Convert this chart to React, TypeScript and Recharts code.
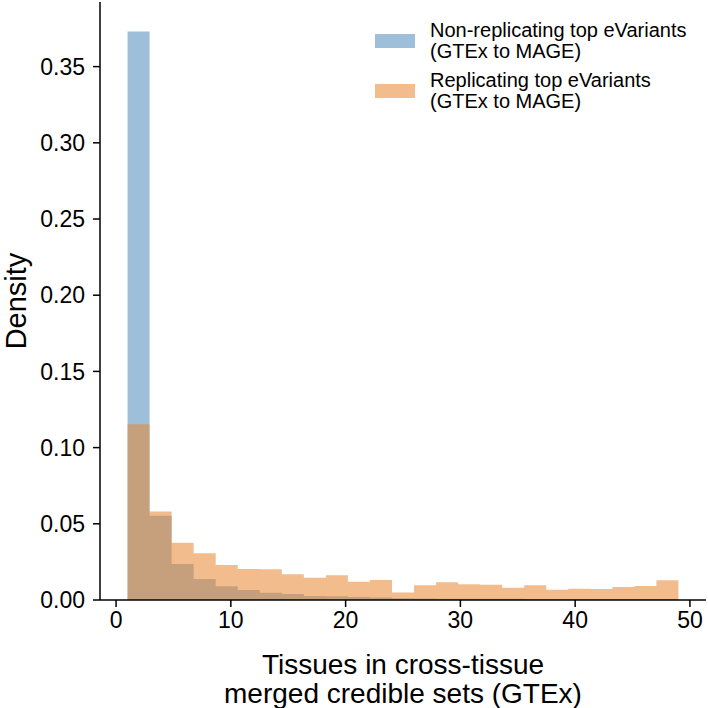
import { ComposedChart, Area, XAxis, YAxis } from "recharts";

const FONT = "'Liberation Sans', Arial, Helvetica, sans-serif";

// histogram bin edges (25 bins from 1 to 49)
const BIN_EDGES = [
  1, 2.92, 4.84, 6.76, 8.68, 10.6, 12.52, 14.44, 16.36, 18.28, 20.2, 22.12, 24.04,
  25.96, 27.88, 29.8, 31.72, 33.64, 35.56, 37.48, 39.4, 41.32, 43.24, 45.16, 47.08, 49,
];
const NON_REPLICATING = [
  0.373, 0.0553, 0.0236, 0.0138, 0.009, 0.0066, 0.0048, 0.0039, 0.0027, 0.0025, 0.002,
  0.0016, 0.0012, 0.001, 0.0009, 0.0009, 0.0008, 0.0008, 0.0007, 0.0007, 0.0006, 0.0006,
  0.0006, 0.0005, 0.0005,
];
const REPLICATING = [
  0.1153, 0.058, 0.0376, 0.0306, 0.023, 0.0203, 0.0201, 0.0169, 0.0146, 0.0162, 0.012,
  0.0131, 0.005, 0.0096, 0.0116, 0.0103, 0.01, 0.0081, 0.0096, 0.0068, 0.0074, 0.0072,
  0.0085, 0.0092, 0.0129,
];
const X_TICKS = [0, 10, 20, 30, 40, 50];
const Y_TICKS = [0, 0.05, 0.1, 0.15, 0.2, 0.25, 0.3, 0.35];

const BLUE = "#9ebfda";
const ORANGE = "#e8852f";
const ORANGE_OPACITY = 0.55;

const data = BIN_EDGES.map((edge, i) => {
  const k = Math.min(i, NON_REPLICATING.length - 1);
  return { edge, nonRep: NON_REPLICATING[k], rep: REPLICATING[k] };
});

const LEGEND_ITEMS = [
  { label: ["Non-replicating top eVariants", "(GTEx to MAGE)"], color: BLUE, opacity: 1 },
  { label: ["Replicating top eVariants", "(GTEx to MAGE)"], color: ORANGE, opacity: ORANGE_OPACITY },
];

function HistLegend() {
  return (
    <div
      style={{
        position: "absolute",
        top: 20,
        left: 375,
        width: 330,
        fontFamily: FONT,
        fontSize: 20,
        color: "#000",
        lineHeight: "21px",
      }}
    >
      {LEGEND_ITEMS.map((item) => (
        <div key={item.label[0]} style={{ display: "flex", alignItems: "center", marginBottom: 8 }}>
          <span
            style={{
              display: "inline-block",
              width: 40,
              height: 14,
              background: item.color,
              opacity: item.opacity,
              marginRight: 15,
            }}
          />
          <span>
            {item.label[0]}
            <br />
            {item.label[1]}
          </span>
        </div>
      ))}
    </div>
  );
}

export default function App() {
  return (
    <div style={{ position: "absolute", left: 0, top: 0, width: 708, height: 708, background: "#fff" }}>
      <ComposedChart
        width={708}
        height={708}
        data={data}
        margin={{ top: 2, right: 2, bottom: 0, left: 0 }}
      >
        <XAxis
          dataKey="edge"
          type="number"
          domain={[-1.4, 51.4]}
          ticks={X_TICKS}
          allowDataOverflow
          height={108}
          tickSize={7}
          tickMargin={5}
          axisLine={{ stroke: "#000", strokeWidth: 1.5 }}
          tickLine={{ stroke: "#000", strokeWidth: 1.5 }}
          tick={{ fill: "#000", fontSize: 23, fontFamily: FONT }}
          label={{
            content: ({ viewBox }: any) => {
              const cx = viewBox.x + viewBox.width / 2;
              return (
                <text
                  x={cx}
                  y={viewBox.y + 74}
                  textAnchor="middle"
                  fill="#000"
                  fontSize={28}
                  fontFamily={FONT}
                >
                  <tspan x={cx} dy={0}>Tissues in cross-tissue</tspan>
                  <tspan x={cx} dy={29}>merged credible sets (GTEx)</tspan>
                </text>
              );
            },
          }}
        />
        <YAxis
          type="number"
          domain={[0, 0.3924]}
          ticks={Y_TICKS}
          allowDataOverflow
          width={100}
          tickSize={7}
          tickMargin={8}
          tickFormatter={(v: number) => v.toFixed(2)}
          axisLine={{ stroke: "#000", strokeWidth: 1.5 }}
          tickLine={{ stroke: "#000", strokeWidth: 1.5 }}
          tick={{ fill: "#000", fontSize: 23, fontFamily: FONT }}
          label={{
            content: ({ viewBox }: any) => {
              const cy = viewBox.y + viewBox.height / 2;
              return (
                <text
                  x={26}
                  y={cy}
                  transform={`rotate(-90, 26, ${cy})`}
                  textAnchor="middle"
                  fill="#000"
                  fontSize={29}
                  fontFamily={FONT}
                >
                  Density
                </text>
              );
            },
          }}
        />
        <Area
          type="stepAfter"
          dataKey="nonRep"
          fill={BLUE}
          fillOpacity={1}
          stroke="none"
          isAnimationActive={false}
          baseValue={0}
        />
        <Area
          type="stepAfter"
          dataKey="rep"
          fill={ORANGE}
          fillOpacity={ORANGE_OPACITY}
          stroke="none"
          isAnimationActive={false}
          baseValue={0}
        />
      </ComposedChart>
      <HistLegend />
    </div>
  );
}
